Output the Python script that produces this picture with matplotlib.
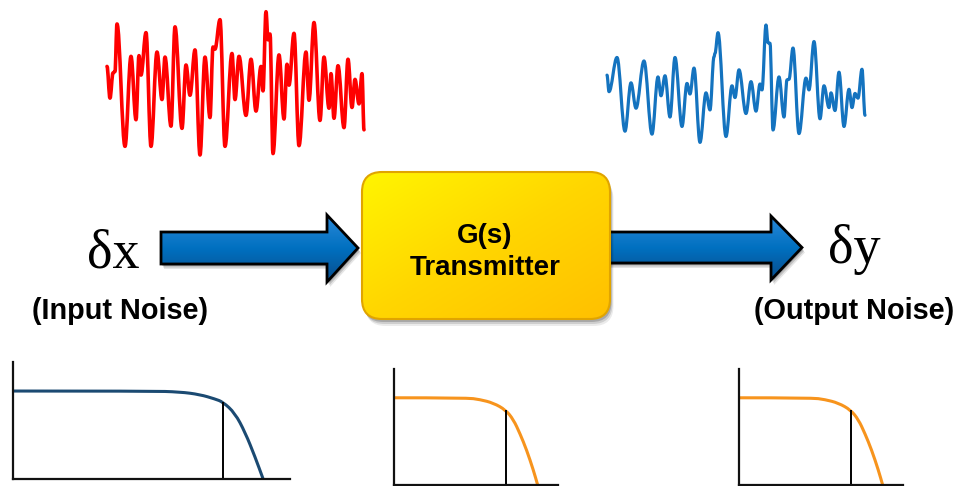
import numpy as np
import matplotlib.pyplot as plt
from matplotlib.path import Path
from matplotlib.patches import PathPatch, Polygon, FancyBboxPatch
from matplotlib.colors import LinearSegmentedColormap

W, H = 959, 486

# NOISE TRACES (time, amplitude) - extrema
red_t = [0, 3, 6, 8, 10, 18, 24, 29, 32, 34, 39, 44, 50, 55, 58, 64, 68, 75, 79, 83,
         88, 93, 98, 103, 106, 108, 113, 118, 125, 128, 132, 139, 144, 149, 154, 156,
         159, 161, 163, 166, 172, 177, 180, 182, 187, 192, 199, 202, 207, 213, 217,
         222, 224, 227, 231, 237, 241, 245, 248, 252, 255, 257]
red_v = [0.23, -0.21, 0.14, 0.16, 0.82, -0.88, 0.37, -0.51, 0.38, 0.11, 0.70, -0.88,
         0.43, -0.23, 0.36, -0.60, 0.78, -0.63, 0.25, -0.17, 0.46, -1.00, 0.36, -0.48,
         0.50, 0.47, 0.88, -0.88, 0.41, -0.23, 0.37, -0.45, 0.33, -0.39, 0.23, -0.11,
         0.99, 0.60, 0.68, -0.98, 0.39, -0.50, 0.26, -0.03, 0.69, -0.87, 0.43, -0.24,
         0.84, -0.52, 0.36, -0.35, 0.13, -0.49, 0.24, -0.62, 0.33, -0.34, 0.05, -0.29,
         0.13, -0.65]

blue_t = [0, 2, 10, 18, 24, 29, 37, 45, 51, 54, 58, 63, 68, 75, 80, 83, 87, 93, 99,
          103, 107, 108, 111, 119, 125, 128, 132, 139, 144, 149, 153, 155, 159, 161,
          163, 166, 172, 177, 180, 182, 186, 192, 199, 202, 207, 213, 217, 222, 224,
          228, 232, 237, 242, 245, 248, 251, 255, 258]
blue_v = [0.15, -0.13, 0.45, -0.80, 0.02, -0.41, 0.39, -0.85, 0.12, -0.20, 0.14, -0.56,
          0.45, -0.72, 0.01, -0.17, 0.27, -0.99, -0.15, -0.44, 0.46, 0.52, 0.87, -0.89,
          -0.03, -0.23, 0.24, -0.50, 0.04, -0.46, 0.00, -0.10, 1.00, 0.70, 0.69, -0.78,
          0.12, -0.56, 0.07, 0.08, 0.61, -0.84, 0.10, -0.10, 0.72, -0.59, -0.03, -0.40,
          -0.15, -0.45, 0.20, -0.72, -0.09, -0.40, -0.16, -0.24, 0.25, -0.53]

# SPECTRA (frequency %, gain)
in_freq = [0, 49.5, 60.3, 67.5, 72.9, 75.8, 80.1, 83.8, 87.4, 90.3]
in_gain = [1.0, 1.0, 0.99, 0.96, 0.91, 0.875, 0.75, 0.53, 0.25, 0.0]
in_cut = 75.8

out_freq = [0, 44.3, 52.4, 60.6, 68.1, 72.8, 76.8, 80.9, 85.0, 87.6]
out_gain = [1.0, 1.0, 0.98, 0.94, 0.86, 0.75, 0.59, 0.40, 0.17, 0.0]
out_cut = 68.1


def wave_path(t, v):
    # cubic segments with flat tangents at each extremum
    verts = [(t[0], v[0])]
    codes = [Path.MOVETO]
    for i in range(1, len(t)):
        d = t[i] - t[i - 1]
        verts += [(t[i - 1] + 0.36 * d, v[i - 1]), (t[i] - 0.36 * d, v[i]), (t[i], v[i])]
        codes += [Path.CURVE4] * 3
    return Path(verts, codes)


def rounded_path(f, g):
    # quadratic segments through midpoints, read points act as controls
    verts = [(f[0], g[0])]
    codes = [Path.MOVETO]
    for i in range(1, len(f) - 1):
        verts += [(f[i], g[i]), ((f[i] + f[i + 1]) / 2, (g[i] + g[i + 1]) / 2)]
        codes += [Path.CURVE3] * 2
    verts.append((f[-1], g[-1]))
    codes.append(Path.LINETO)
    return Path(verts, codes)


fig = plt.figure(figsize=(W / 100, H / 100), dpi=100)
ax = fig.add_axes([0, 0, 1, 1])
ax.set_xlim(0, W)
ax.set_ylim(H, 0)
ax.axis("off")


def px_axes(x0, y0, x1, y1):
    a = fig.add_axes([x0 / W, 1 - y1 / H, (x1 - x0) / W, (y1 - y0) / H])
    a.patch.set_visible(False)
    return a


# NOISE SIGNALS
rax = px_axes(107, 11, 364, 155)
rax.set_xlim(0, 257)
rax.set_ylim(-1, 1)
rax.axis("off")
rax.add_patch(PathPatch(wave_path(red_t, red_v), fill=False, ec="#ff0000", lw=2.6,
                        capstyle="round", joinstyle="round", clip_on=False))

bax = px_axes(607, 25, 865, 143)
bax.set_xlim(0, 258)
bax.set_ylim(-1, 1)
bax.axis("off")
bax.add_patch(PathPatch(wave_path(blue_t, blue_v), fill=False, ec="#1473bf", lw=2.3,
                        capstyle="round", joinstyle="round", clip_on=False))

# ARROWS
blue_cmap = LinearSegmentedColormap.from_list("arr", ["#2a88d8", "#0070c0", "#0a4d8c"])


def draw_arrow(x0, xh, tip, ytop, ybot, htop, hbot):
    ymid = (ytop + ybot) / 2
    pts = [(x0, ytop), (xh, ytop), (xh, htop), (tip, ymid), (xh, hbot), (xh, ybot), (x0, ybot)]
    for k, al in [(5, 0.10), (3.5, 0.15), (2, 0.2)]:
        ax.add_patch(Polygon([(x + k * 0.6, y + k) for x, y in pts], closed=True,
                             fc="#000000", ec="none", alpha=al))
    poly = Polygon(pts, closed=True, fc="none", ec="black", lw=2.0, joinstyle="miter", zorder=3)
    ax.add_patch(poly)
    grad = np.linspace(0, 1, 100).reshape(-1, 1)
    im = ax.imshow(grad, cmap=blue_cmap, extent=[x0, tip, hbot, htop], aspect="auto", zorder=2)
    im.set_clip_path(poly)


draw_arrow(161, 327, 358, 232, 264, 215, 282)
draw_arrow(604, 771, 802, 232, 263, 216, 280)

# TRANSMITTER BOX
bx, by, bw, bh = 362, 172, 248, 147
for k, al in [(7, 0.08), (5, 0.12), (3, 0.18)]:
    ax.add_patch(FancyBboxPatch((bx + k * 0.5, by + k), bw, bh,
                                boxstyle="round,pad=0,rounding_size=20",
                                fc="#000000", ec="none", alpha=al, zorder=4))
box = FancyBboxPatch((bx, by), bw, bh, boxstyle="round,pad=0,rounding_size=20",
                     fc="none", ec="#e0a400", lw=1.5, zorder=6)
ax.add_patch(box)
gold_cmap = LinearSegmentedColormap.from_list("gold", ["#fff500", "#ffd600", "#ffc000"])
gg = np.add.outer(np.linspace(0, 1, 100), np.linspace(0, 1, 100)) / 2
im = ax.imshow(gg, cmap=gold_cmap, extent=[bx, bx + bw, by + bh, by], aspect="auto", zorder=5)
im.set_clip_path(box)

ax.text(bx + bw / 2 - 1, 243, "G(s)", ha="center", va="baseline", family="Liberation Sans",
        weight="bold", size=20, zorder=7)
ax.text(bx + bw / 2 - 1, 275, "Transmitter", ha="center", va="baseline",
        family="Liberation Sans", weight="bold", size=20, zorder=7)

# LABELS
ax.text(87, 267, "δx", family="Liberation Serif", size=39, va="baseline")
ax.text(828, 263, "δy", family="Liberation Serif", size=39, va="baseline")
ax.text(120, 319, "(Input Noise)", ha="center", va="baseline", family="Liberation Sans",
        weight="bold", size=20.8)
ax.text(854, 319, "(Output Noise)", ha="center", va="baseline", family="Liberation Sans",
        weight="bold", size=20.8)

ax.set_xlim(0, W)
ax.set_ylim(H, 0)


# SPECTRA
def spectrum(a, f, g, cut, color):
    a.set_xlim(0, 100)
    a.set_ylim(0, 1.33)
    a.add_patch(PathPatch(rounded_path(f, g), fill=False, ec=color, lw=2.2, clip_on=False))
    a.vlines(cut, 0, np.interp(cut, f, g), color="black", lw=1.4)
    for s in ["top", "right"]:
        a.spines[s].set_visible(False)
    for s in ["left", "bottom"]:
        a.spines[s].set_linewidth(1.6)
        a.spines[s].set_color("#111111")
    a.set_xticks([])
    a.set_yticks([])


spectrum(px_axes(13, 362, 290, 479), in_freq, in_gain, in_cut, "#1b4a72")
spectrum(px_axes(394, 369, 558, 485), out_freq, out_gain, out_cut, "#f7941d")
spectrum(px_axes(739, 369, 903, 485), out_freq, out_gain, out_cut, "#f7941d")

plt.savefig("out.png", dpi=100)
